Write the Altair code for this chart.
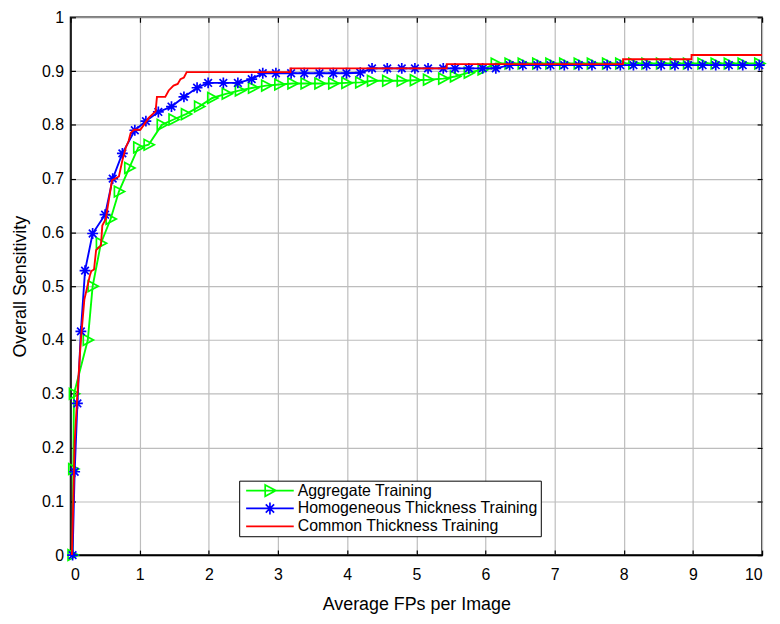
import altair as alt
import pandas as pd

# ---------------- data ----------------
series_names = ["Aggregate Training", "Homogeneous Thickness Training", "Common Thickness Training"]
series_colors = ["#00ff00", "#0000ff", "#ff0000"]

x_ticks = [0, 1, 2, 3, 4, 5, 6, 7, 8, 9, 10]
y_ticks = [0, 0.1, 0.2, 0.3, 0.4, 0.5, 0.6, 0.7, 0.8, 0.9, 1.0]

agg_x = [0.03, 0.04, 0.05, 0.25, 0.32, 0.44, 0.58, 0.70, 0.85, 0.98, 1.13, 1.32, 1.49, 1.67,
         1.86, 2.05, 2.26, 2.45, 2.64, 2.83, 3.02, 3.21, 3.40, 3.60, 3.80, 3.99, 4.19, 4.36,
         4.58, 4.79, 4.98, 5.17, 5.39, 5.56, 5.76, 5.96, 6.15, 6.35, 6.54, 6.75, 6.94, 7.14,
         7.35, 7.54, 7.76, 7.95, 8.14, 8.33, 8.54, 8.74, 8.93, 9.14, 9.33, 9.52, 9.72, 9.96]
agg_y = [0.0, 0.16, 0.30, 0.40, 0.50, 0.58, 0.625, 0.676, 0.72, 0.758, 0.763, 0.80, 0.81, 0.82,
         0.834, 0.85, 0.858, 0.864, 0.869, 0.873, 0.875, 0.877, 0.877, 0.877, 0.877, 0.878, 0.879, 0.882,
         0.882, 0.882, 0.883, 0.884, 0.886, 0.890, 0.897, 0.903, 0.914, 0.914, 0.914, 0.914, 0.914, 0.914,
         0.914, 0.914, 0.914, 0.914, 0.914, 0.914, 0.914, 0.914, 0.914, 0.914, 0.914, 0.914, 0.914, 0.914]

hom_x = [0.03, 0.06, 0.10, 0.15, 0.21, 0.32, 0.50, 0.61, 0.75, 0.93, 1.09, 1.27, 1.46, 1.64,
         1.83, 1.99, 2.21, 2.42, 2.62, 2.78, 2.97, 3.19, 3.38, 3.60, 3.80, 3.99, 4.19, 4.36,
         4.58, 4.79, 4.98, 5.17, 5.39, 5.56, 5.76, 5.96, 6.15, 6.35, 6.54, 6.75, 6.94, 7.14,
         7.35, 7.54, 7.76, 7.95, 8.14, 8.33, 8.54, 8.74, 8.93, 9.14, 9.33, 9.52, 9.72, 9.96]
hom_y = [0.0, 0.155, 0.282, 0.416, 0.529, 0.598, 0.633, 0.700, 0.747, 0.790, 0.807, 0.824, 0.834, 0.852,
         0.869, 0.878, 0.878, 0.878, 0.885, 0.896, 0.896, 0.896, 0.896, 0.896, 0.896, 0.896, 0.897, 0.905,
         0.905, 0.905, 0.905, 0.905, 0.905, 0.905, 0.905, 0.905, 0.905, 0.911, 0.911, 0.911, 0.911, 0.911,
         0.911, 0.911, 0.911, 0.911, 0.911, 0.911, 0.911, 0.911, 0.911, 0.911, 0.911, 0.911, 0.911, 0.911]

com_x = [0.02, 0.04, 0.06, 0.10, 0.15, 0.20, 0.28, 0.30, 0.34, 0.37, 0.44, 0.46, 0.51, 0.60,
         0.70, 0.75, 0.80, 0.84, 0.87, 0.92, 1.01, 1.06, 1.13, 1.23, 1.25, 1.37, 1.42, 1.49,
         1.55, 1.59, 1.64, 1.68, 3.18, 3.18, 5.44, 5.44, 7.99, 7.99, 8.98, 8.98, 10.0]
com_y = [0.0, 0.10, 0.21, 0.30, 0.40, 0.475, 0.52, 0.528, 0.531, 0.567, 0.576, 0.613, 0.625, 0.697,
         0.704, 0.734, 0.758, 0.770, 0.785, 0.791, 0.791, 0.800, 0.813, 0.825, 0.852, 0.852, 0.864, 0.873,
         0.876, 0.885, 0.888, 0.898, 0.898, 0.905, 0.905, 0.913, 0.913, 0.922, 0.922, 0.930, 0.930]

# ---------------- styling ----------------
FONT = "Liberation Sans"
TRI = "M-0.8,-0.95L1,0L-0.8,0.95Z"
STAR = "M-1,0L1,0M0,-1L0,1M-0.7,-0.7L0.7,0.7M-0.7,0.7L0.7,-0.7"
LEG_TRI = "M-4,0L4,0M-0.8,-0.95L1,0L-0.8,0.95Z"
LEG_STAR = "M-4,0L4,0M0,-1L0,1M-0.7,-0.7L0.7,0.7M-0.7,0.7L0.7,-0.7"
LEG_LINE = "M-4,0L4,0"

XS = alt.Scale(domain=[0, 10], nice=False)
YS = alt.Scale(domain=[0, 1], nice=False)


def frame(xs, ys, name):
    return pd.DataFrame({"fp": xs, "sens": ys, "series": name, "i": list(range(len(xs)))})


df_agg = frame(agg_x, agg_y, series_names[0])
df_hom = frame(hom_x, hom_y, series_names[1])
df_com = frame(com_x, com_y, series_names[2])

# main axes (labels, titles, grid)
X_MAIN = alt.X("fp:Q", scale=XS, axis=alt.Axis(title="Average FPs per Image", values=x_ticks, format="d"))
Y_MAIN = alt.Y("sens:Q", scale=YS, axis=alt.Axis(title="Overall Sensitivity", values=y_ticks, format="~g"))
# no axis
X_NONE = alt.X("fp:Q", scale=XS, axis=None)
Y_NONE = alt.Y("sens:Q", scale=YS, axis=None)


def tick_axis(orient, vals):
    return alt.Axis(orient=orient, values=vals, offset=-5, ticks=True, tickSize=5, tickColor="black",
                    tickWidth=1.2, labels=False, domain=False, grid=False, title=None)


# inward ticks (MATLAB style) on all four sides
X_TB = alt.X("fp:Q", scale=XS, axis=tick_axis("bottom", x_ticks))
Y_TL = alt.Y("sens:Q", scale=YS, axis=tick_axis("left", y_ticks))
X_TT = alt.X("fp:Q", scale=XS, axis=tick_axis("top", x_ticks))
Y_TR = alt.Y("sens:Q", scale=YS, axis=tick_axis("right", y_ticks))


def line_layer(df, color, x, y):
    return alt.Chart(df).mark_line(color=color, strokeWidth=1.9, clip=True).encode(
        x=x, y=y, order=alt.Order("i:Q"))


def point_layer(df, color, shape, size, x, y):
    return alt.Chart(df).mark_point(shape=shape, size=size, filled=False, color=color,
                                    strokeWidth=1.7, opacity=1, clip=False).encode(x=x, y=y)


legend_df = pd.DataFrame({"series": series_names})
leg_props = dict(orient="none", legendX=170, legendY=467, title=None,
                 fillColor="white", strokeColor="black", padding=2,
                 symbolSize=144, symbolStrokeWidth=1.7, symbolOffset=21,
                 labelOffset=20, labelFont=FONT, labelFontSize=16, labelColor="black",
                 rowPadding=-2, labelLimit=400)
legend_layer = alt.Chart(legend_df).mark_point(filled=False, strokeWidth=1.7, clip=True, opacity=1).encode(
    x=alt.value(-1000), y=alt.value(-1000),
    color=alt.Color("series:N", scale=alt.Scale(domain=series_names, range=series_colors),
                    legend=alt.Legend(**leg_props)),
    shape=alt.Shape("series:N", scale=alt.Scale(domain=series_names, range=[LEG_TRI, LEG_STAR, LEG_LINE]),
                    legend=alt.Legend(**leg_props)),
)

chart = alt.layer(
    line_layer(df_agg, series_colors[0], X_MAIN, Y_MAIN),
    point_layer(df_agg, series_colors[0], TRI, 130, X_TB, Y_TL),
    line_layer(df_hom, series_colors[1], X_TT, Y_TR),
    point_layer(df_hom, series_colors[1], STAR, 120, X_NONE, Y_NONE),
    line_layer(df_com, series_colors[2], X_NONE, Y_NONE),
    legend_layer,
).resolve_axis(
    x="independent", y="independent"
).properties(
    width=697, height=542,
    autosize=alt.AutoSizeParams(type="none"),
    padding={"left": 63, "top": 7, "right": 10, "bottom": 58},
).configure_view(
    stroke="black", strokeWidth=1.5
).configure_axis(
    grid=True, gridColor="#bdbdbd", gridWidth=1.2, ticks=False,
    domainColor="black", domainWidth=1.5,
    labelFont=FONT, labelFontSize=16, labelColor="black",
    titleFont=FONT, titleFontSize=18, titleFontWeight="normal", titleColor="black",
).configure_axisX(
    labelPadding=12, titlePadding=13
).configure_axisY(
    labelPadding=7, titlePadding=12
)

chart.save("out.html", embed_options={"renderer": "svg", "actions": False})
